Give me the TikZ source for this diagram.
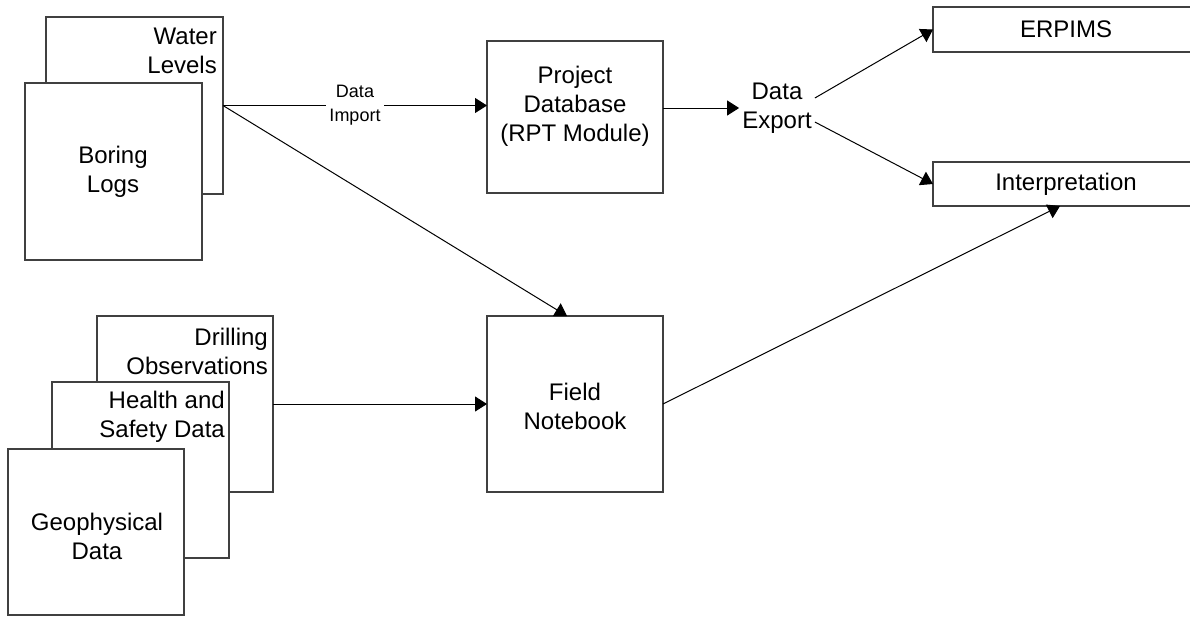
\documentclass[tikz,border=0pt]{standalone}
\usepackage{fontspec}
\setmainfont{Liberation Sans}
\usetikzlibrary{arrows.meta}
\tikzset{
  box/.style={draw=black!75, line width=1.2pt, fill=white, inner sep=0pt, outer sep=0pt, anchor=north west},
  txt/.style={font=\fontsize{24}{29}\selectfont, inner sep=3pt},
  smalltxt/.style={font=\fontsize{18}{24}\selectfont, inner sep=3pt, fill=white},
  conn/.style={line width=1pt, -{Triangle[length=12pt,width=15pt]}}
}
\begin{document}
\begin{tikzpicture}[x=1pt,y=-1pt]
\useasboundingbox (0,0) rectangle (1190,625);

% stacked source sheets, upper group
\node[box, minimum width=177pt, minimum height=177pt] (water) at (46,17) {};
\node[txt, anchor=east, align=right] (waterT) at (220,51) {Water\\Levels};
\node[box, minimum width=177pt, minimum height=177pt] (boring) at (25,83) {};
\node[txt, align=center] (boringT) at (113,172) {Boring\\Logs};

% stacked source sheets, lower group
\node[box, minimum width=176pt, minimum height=176pt] (drill) at (97,316) {};
\node[txt, anchor=east, align=right] (drillT) at (271,351) {Drilling\\Observations};
\node[box, minimum width=177pt, minimum height=176pt] (health) at (52,382) {};
\node[txt, anchor=east, align=right] (healthT) at (228,417) {Health and\\Safety Data};
\node[box, minimum width=176pt, minimum height=166pt] (geo) at (8,449) {};
\node[txt, align=center] (geoT) at (97,536) {Geophysical\\Data};

% processing boxes
\node[box, minimum width=176pt, minimum height=152pt] (projdb) at (487,41) {};
\node[txt, align=center] (projdbT) at (575,106) {Project\\Database\\(RPT Module)};
\node[box, minimum width=176pt, minimum height=176pt] (field) at (487,316) {};
\node[txt, align=center] (fieldT) at (575,406) {Field\\Notebook};

% export node and targets
\node[txt, align=center] (export) at (777,108) {Data\\Export};
\node[box, minimum width=266pt, minimum height=45pt] (erpims) at (933,7) {};
\node[txt] (erpimsT) at (1066,29.5) {ERPIMS};
\node[box, minimum width=266pt, minimum height=44pt] (interp) at (933,162) {};
\node[txt] (interpT) at (1066,184) {Interpretation};

% connectors
\draw[conn] (water.east) -- (water.east -| projdb.west)
  node[smalltxt, align=center, pos=0.5] (importL) {Data\\Import};
\draw[conn] (water.east) -- ([xshift=-8pt]field.north);
\draw[conn] (drill.east) -- (drill.east -| field.west);
\draw[conn] (projdb.east |- export.west) -- (export.west);
\draw[conn] ([yshift=10pt]export.east) -- (erpims.west);
\draw[conn] ([yshift=-14pt]export.east) -- (interp.west);
\draw[conn] (field.east) -- ([xshift=-6pt]interp.south);
\end{tikzpicture}
\end{document}
